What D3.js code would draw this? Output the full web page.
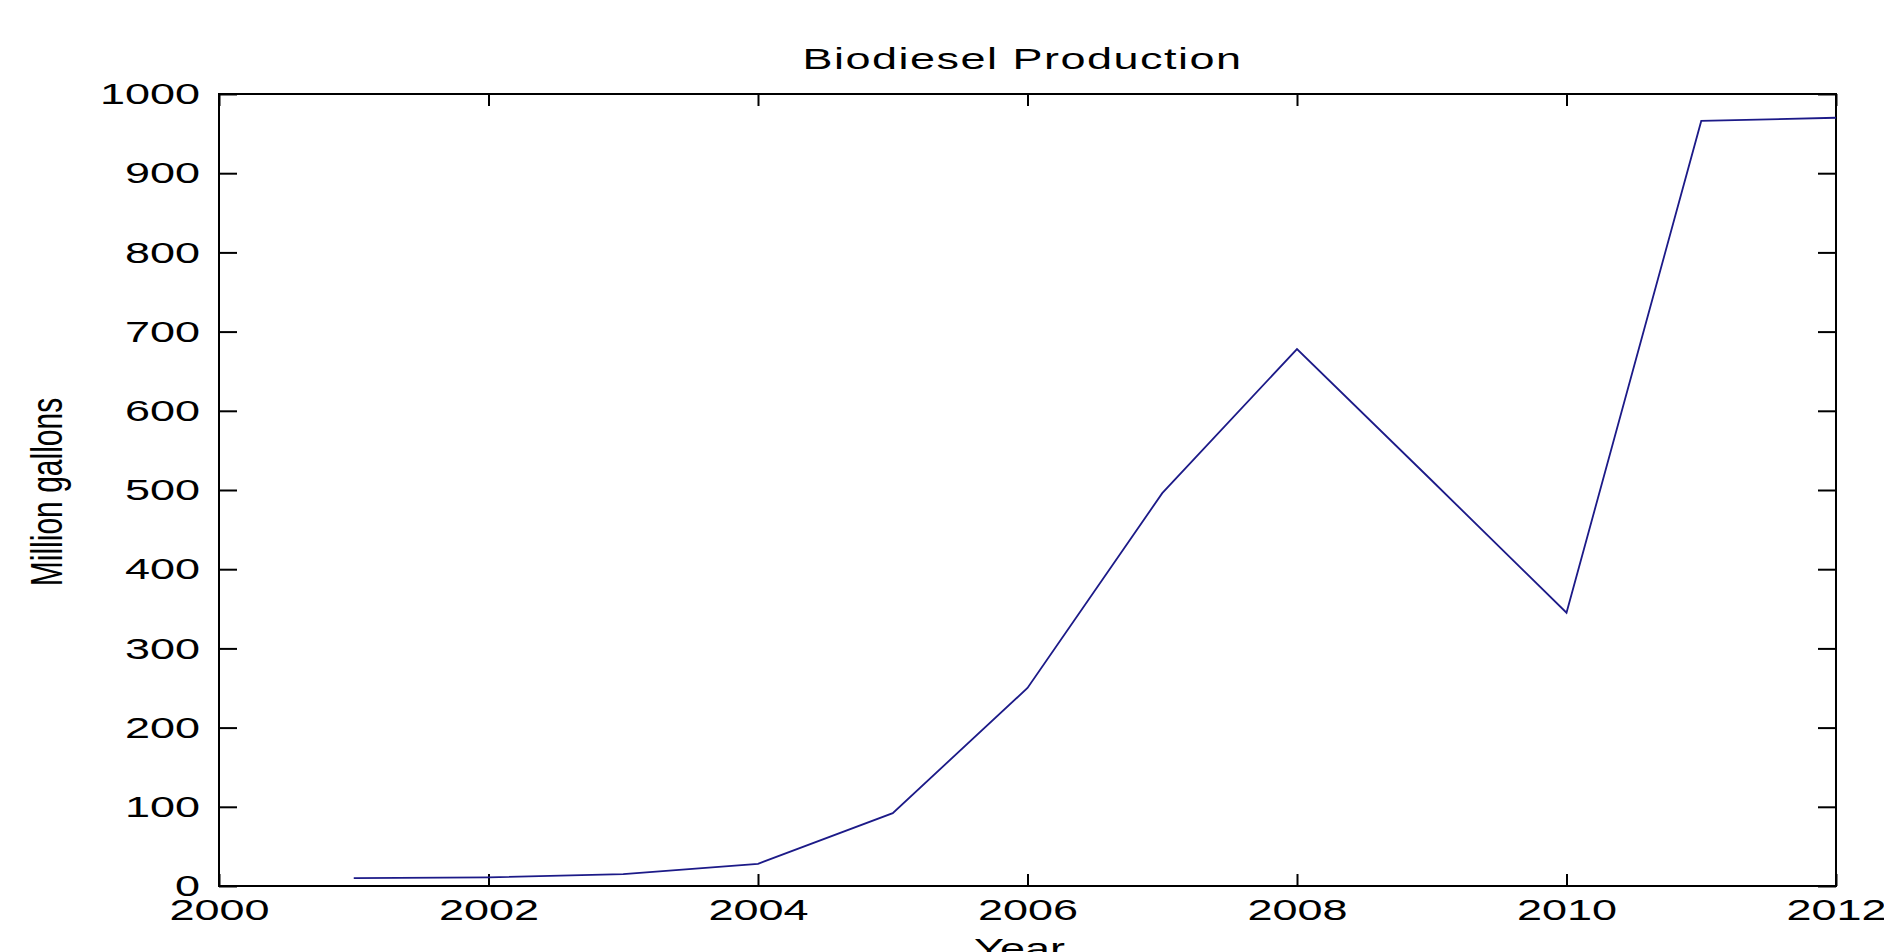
<!DOCTYPE html>
<html>
<head>
<meta charset="utf-8">
<script src="https://cdn.jsdelivr.net/npm/d3@7"></script>
<style>
  html, body { margin: 0; padding: 0; background: #fff; }
  text { font-family: "Liberation Sans", Arial, sans-serif; fill: #000; }
</style>
</head>
<body>
<div id="container"></div>
<script>
const years = [2001, 2002, 2003, 2004, 2005, 2006, 2007, 2008, 2009, 2010, 2011, 2012];
const gallons = [10, 11, 15, 28, 92, 250, 496, 678, 512, 345, 966, 970];
const xTicks = [2000, 2002, 2004, 2006, 2008, 2010, 2012];
const yTicks = [0, 100, 200, 300, 400, 500, 600, 700, 800, 900, 1000];

const width = 1884, height = 952;
const margin = { top: 94, right: 48, bottom: 66, left: 219 };
const sx = 1.5; // picture is stretched sideways, so the text is too
const fontSize = 30;

const svg = d3.select('#container').append('svg')
  .attr('width', width)
  .attr('height', height);

svg.append('rect').attr('width', width).attr('height', height).attr('fill', '#fff');

const x = d3.scaleLinear().domain([2000, 2012]).range([margin.left, width - margin.right]);
const y = d3.scaleLinear().domain([0, 1000]).range([height - margin.bottom, margin.top]);

function stretchText(sel) {
  sel.selectAll('text').each(function () {
    const t = d3.select(this);
    const tx = +t.attr('x') || 0;
    t.attr('x', tx / sx).attr('transform', 'scale(' + sx + ',1)');
  });
}

// bottom axis
const gx = svg.append('g')
  .attr('transform', 'translate(0,' + y(0) + ')')
  .call(d3.axisBottom(x).tickValues(xTicks).tickFormat(d3.format('d'))
    .tickSizeInner(-12).tickSizeOuter(0).tickPadding(13));

// left axis
const gy = svg.append('g')
  .attr('transform', 'translate(' + x(2000) + ',0)')
  .call(d3.axisLeft(y).tickValues(yTicks).tickFormat(d3.format('d'))
    .tickSizeInner(-18).tickSizeOuter(0).tickPadding(19));

// top and right ticks, no labels
const gt = svg.append('g')
  .attr('transform', 'translate(0,' + y(1000) + ')')
  .call(d3.axisTop(x).tickValues(xTicks).tickFormat('').tickSizeInner(-12).tickSizeOuter(0));

const gr = svg.append('g')
  .attr('transform', 'translate(' + x(2012) + ',0)')
  .call(d3.axisRight(y).tickValues(yTicks).tickFormat('').tickSizeInner(-18).tickSizeOuter(0));

[gx, gy, gt, gr].forEach(function (g) {
  g.select('.domain').remove();
  g.selectAll('.tick line').attr('stroke', '#000').attr('stroke-width', 2);
  g.selectAll('text').style('font-size', fontSize + 'px').attr('fill', '#000');
});
stretchText(gx);
stretchText(gy);

// box
svg.append('rect')
  .attr('x', x(2000))
  .attr('y', y(1000))
  .attr('width', x(2012) - x(2000))
  .attr('height', y(0) - y(1000))
  .attr('fill', 'none')
  .attr('stroke', '#000')
  .attr('stroke-width', 2);

// the series
const line = d3.line()
  .x(function (d, i) { return x(years[i]); })
  .y(function (d) { return y(d); });

svg.append('path')
  .datum(gallons)
  .attr('d', line)
  .attr('fill', 'none')
  .attr('stroke', '#1c1a88')
  .attr('stroke-width', 1.8);

const cx = (x(2000) + x(2012)) / 2 - 5;

svg.append('text')
  .attr('transform', 'translate(' + cx + ',69) scale(' + sx + ',1)')
  .attr('text-anchor', 'middle')
  .style('font-size', fontSize + 'px')
  .style('letter-spacing', '1px')
  .text('Biodiesel Production');

svg.append('text')
  .attr('transform', 'translate(' + (cx - 3) + ',959) scale(' + sx + ',1)')
  .attr('text-anchor', 'middle')
  .style('font-size', fontSize + 'px')
  .text('Year');

svg.append('text')
  .attr('transform', 'translate(62,' + ((y(0) + y(1000)) / 2 + 2) + ') scale(' + sx + ',1) rotate(-90)')
  .attr('text-anchor', 'middle')
  .style('font-size', fontSize + 'px')
  .text('Million gallons');
</script>
</body>
</html>
